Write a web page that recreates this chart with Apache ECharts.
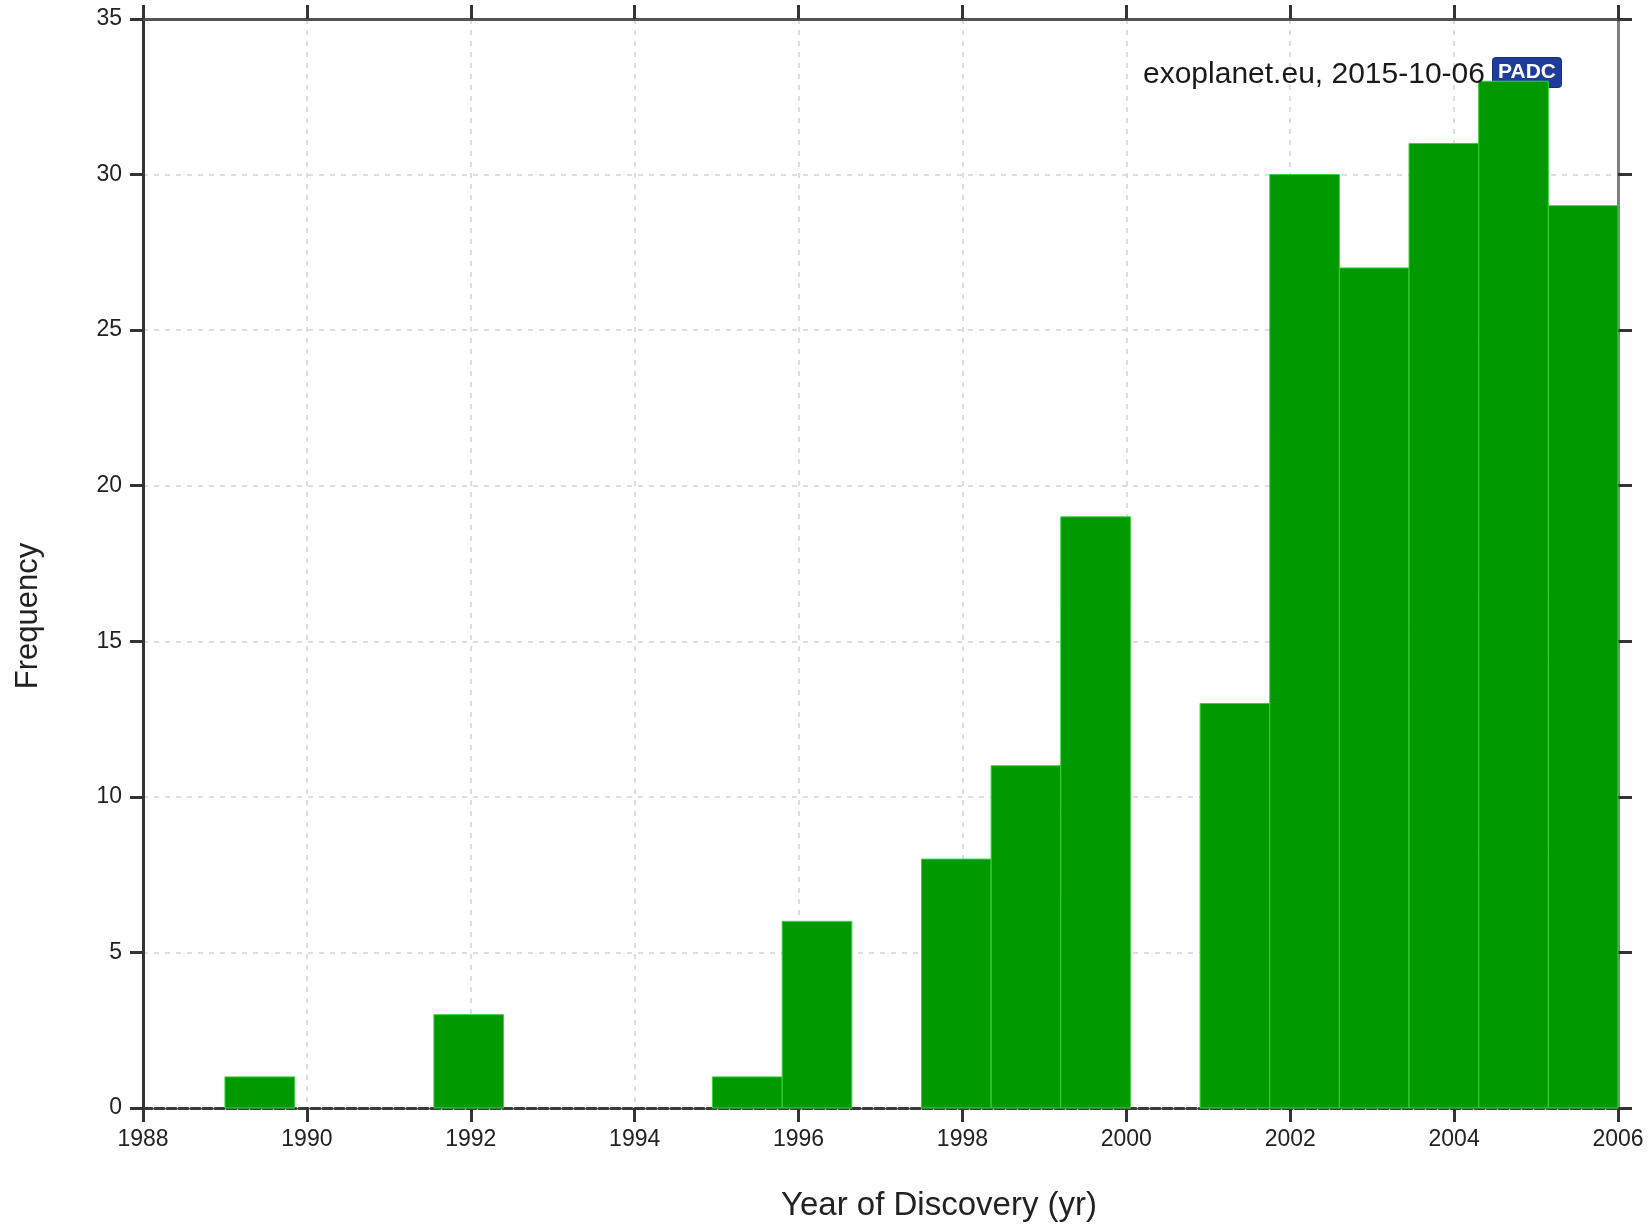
<!DOCTYPE html>
<html>
<head>
<meta charset="utf-8">
<script src="https://cdn.jsdelivr.net/npm/echarts@6/dist/echarts.min.js"></script>
<style>
html,body{margin:0;padding:0;background:#fff;}
#chart{width:1652px;height:1225px;}
</style>
</head>
<body>
<div id="chart"></div>
<script>
// Histogram bin edges (years)
const binEdges = [1989, 1989.85, 1990.7, 1991.55, 1992.4, 1993.25, 1994.1, 1994.95, 1995.8, 1996.65,
                  1997.5, 1998.35, 1999.2, 2000.05, 2000.9, 2001.75, 2002.6, 2003.45, 2004.3, 2005.15, 2006];
// Frequency per bin
const frequencies = [1, 0, 0, 3, 0, 0, 0, 1, 6, 0, 8, 11, 19, 0, 13, 30, 27, 31, 33, 29];
// Axis ticks
const xTicks = [1988, 1990, 1992, 1994, 1996, 1998, 2000, 2002, 2004, 2006];
const yTicks = [0, 5, 10, 15, 20, 25, 30, 35];
const xTitle = 'Year of Discovery (yr)';
const yTitle = 'Frequency';
const annotation = 'exoplanet.eu, 2015-10-06';

const FONT = "'Liberation Sans', Arial, Helvetica, sans-serif";

const barData = frequencies.map((v, i) => [binEdges[i], binEdges[i + 1], v]);

const chart = echarts.init(document.getElementById('chart'), null, {renderer: 'canvas'});

const gridLine = {show: true, showMinLine: false, showMaxLine: false,
  lineStyle: {color: '#d4d4d4', width: 1.5, type: [5, 6]}};

chart.setOption({
  backgroundColor: '#ffffff',
  animation: false,
  grid: {left: 143, right: 34, top: 19, bottom: 117, containLabel: false},
  xAxis: [{
    type: 'value',
    position: 'bottom',
    min: xTicks[0], max: xTicks[xTicks.length - 1], interval: 2,
    axisLine: {show: true, onZero: false, lineStyle: {color: '#3a3a3a', width: 3, type: [9, 3]}},
    axisTick: {show: true, inside: false, length: 14, lineStyle: {color: '#333', width: 3}},
    axisLabel: {show: true, margin: 20, fontSize: 23, color: '#222', fontFamily: FONT,
      formatter: v => String(v)},
    splitLine: gridLine
  }, {
    type: 'value',
    position: 'top',
    min: xTicks[0], max: xTicks[xTicks.length - 1], interval: 2,
    axisLine: {show: true, onZero: false, lineStyle: {color: '#555', width: 3}},
    axisTick: {show: true, inside: false, length: 14, lineStyle: {color: '#333', width: 3}},
    axisLabel: {show: false},
    splitLine: {show: false}
  }],
  yAxis: [{
    type: 'value',
    position: 'left',
    min: yTicks[0], max: yTicks[yTicks.length - 1], interval: 5,
    axisLine: {show: true, onZero: false, lineStyle: {color: '#333', width: 3}},
    axisTick: {show: true, inside: false, length: 13, lineStyle: {color: '#333', width: 3}},
    axisLabel: {show: true, margin: 21, fontSize: 23, color: '#222', fontFamily: FONT},
    splitLine: gridLine
  }, {
    type: 'value',
    position: 'right',
    min: yTicks[0], max: yTicks[yTicks.length - 1], interval: 5,
    axisLine: {show: true, onZero: false, lineStyle: {color: '#808080', width: 3}},
    axisTick: {show: true, inside: false, length: 14, lineStyle: {color: '#333', width: 3}},
    axisLabel: {show: false},
    splitLine: {show: false}
  }],
  series: [{
    type: 'custom',
    xAxisIndex: 0, yAxisIndex: 0,
    data: barData,
    encode: {x: [0, 1], y: 2},
    z: 3,
    renderItem: function (params, api) {
      const v = api.value(2);
      if (!v) return null;
      const p0 = api.coord([api.value(0), 0]);
      const p1 = api.coord([api.value(1), v]);
      return {
        type: 'rect',
        shape: {x: p0[0], y: p1[1], width: p1[0] - p0[0], height: p0[1] - p1[1]},
        style: {fill: '#009900', stroke: '#3ad13a', lineWidth: 1}
      };
    }
  }],
  graphic: [{
    type: 'text',
    x: 939, y: 1206,
    style: {text: xTitle, fontSize: 33, fill: '#222', fontFamily: FONT, align: 'center', verticalAlign: 'middle'}
  }, {
    type: 'text',
    x: 28, y: 616,
    rotation: Math.PI / 2,
    style: {text: yTitle, fontSize: 31, fill: '#222', fontFamily: FONT, align: 'center', verticalAlign: 'middle'}
  }, {
    type: 'text',
    left: 1143, top: 60,
    z: 100,
    style: {text: annotation, fontSize: 30, fill: '#1a1a1a', fontFamily: FONT}
  }, {
    type: 'group',
    left: 1492, top: 57, z: 100,
    children: [{
      type: 'rect',
      shape: {x: 0, y: 0, width: 69, height: 30, r: 3},
      style: {fill: '#1d3c9c', stroke: '#16307f', lineWidth: 1}
    }, {
      type: 'text',
      x: 34.5, y: 15,
      style: {text: 'PADC', fontSize: 21, fontWeight: 'bold', fill: '#ffffff', align: 'center', verticalAlign: 'middle', fontFamily: FONT}
    }]
  }]
});
</script>
</body>
</html>
